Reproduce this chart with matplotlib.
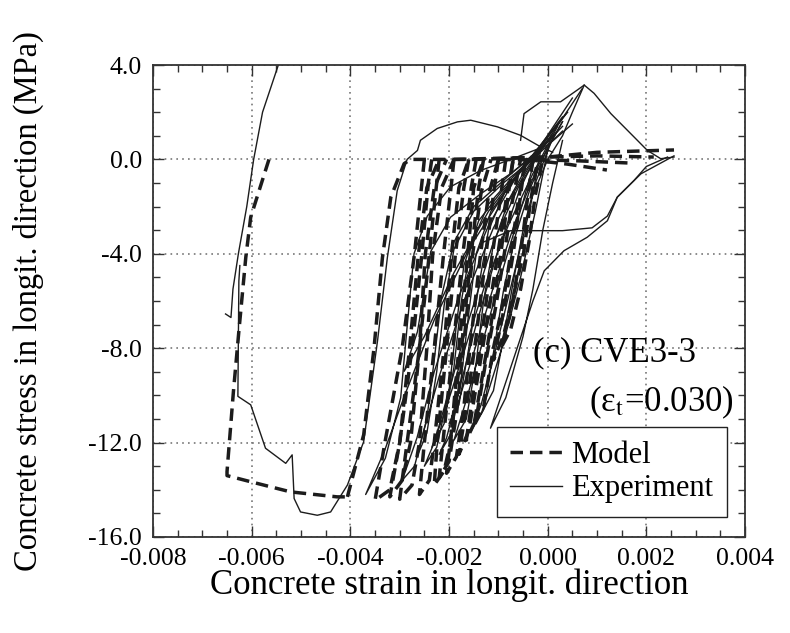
import numpy as np
import matplotlib.pyplot as plt

plt.rcParams['font.family'] = ['Liberation Serif', 'DejaVu Serif']
plt.rcParams['mathtext.fontset'] = 'stix'
plt.rcParams['axes.unicode_minus'] = False

# strain values are in units of 0.001, stress in MPa

# Experiment (thin solid)
exp_left_x = [-5.46, -5.62, -5.78, -5.96, -6.10, -6.27, -6.38, -6.42, -6.53]
exp_left_y = [4.0, 3.0, 2.0, 0.0, -2.0, -4.0, -5.5, -6.7, -6.55]

exp_env_x = [-6.24, -6.26, -6.28, -6.02, -5.72, -5.31, -5.18, -5.14, -5.01, -4.67, -4.40,
             -4.06, -3.73, -3.45, -3.25, -3.05, -2.85, -2.64, -2.58, -2.24, -1.83, -1.56,
             -1.02, -0.55, -0.20, 0.10]
exp_env_y = [-4.5, -5.15, -10.04, -10.4, -12.24, -12.88, -12.52, -14.37, -14.94, -15.08, -14.94,
             -13.8, -11.96, -7.7, -4.16, -1.32, 0.0, 0.38, 0.81, 1.31, 1.59, 1.66,
             1.38, 1.02, 0.6, 0.3]

exp_c1_x = [0.3, -0.3, -0.9, -1.6, -2.3, -2.9, -3.3, -3.69, -3.29, -2.98, -2.85, -2.71, -2.44,
            -1.97, -1.36, -0.75, 0.0, 0.5]
exp_c1_y = [1.8, 0.2, -1.5, -3.8, -6.8, -10.0, -12.3, -14.2, -12.66, -10.1, -7.1, -4.0, -2.4,
            -1.16, -0.47, 0.0, 0.6, 1.5]

exp_c2_x = [0.1, -0.5, -1.2, -1.9, -2.5, -2.91, -2.64, -2.37, -1.97, -1.36, -0.75, -0.2, 0.3]
exp_c2_y = [1.0, -0.3, -2.2, -4.8, -7.5, -8.98, -7.3, -3.9, -2.45, -1.46, -0.6, 0.3, 1.4]

exp_c3_x = [0.0, -0.6, -1.2, -1.8, -2.3, -2.65, -2.95, -2.7, -2.45, -2.3, -2.15, -1.9, -1.5,
            -0.9, -0.3, 0.4]
exp_c3_y = [0.9, -0.6, -2.8, -5.8, -9.0, -11.8, -13.6, -13.0, -11.0, -8.5, -5.8, -3.5, -2.0,
            -0.9, 0.2, 2.0]

exp_c4_x = [-0.1, -0.6, -1.1, -1.6, -2.0, -2.3, -2.5, -2.25, -2.0, -1.85, -1.7, -1.4, -0.95,
            -0.4, 0.2]
exp_c4_y = [0.5, -1.2, -3.5, -6.8, -9.8, -12.0, -13.0, -12.2, -9.8, -7.0, -4.5, -2.6, -1.4,
            -0.2, 1.2]

exp_c5_x = [-0.2, -0.55, -1.0, -1.45, -1.8, -2.05, -2.2, -1.95, -1.75, -1.6, -1.45, -1.15,
            -0.7, -0.2, 0.5]
exp_c5_y = [0.3, -1.2, -3.8, -7.0, -9.8, -11.8, -12.5, -11.6, -9.2, -6.5, -4.0, -2.2,
            -0.9, 0.4, 2.6]

exp_c6_x = [-0.25, -0.5, -0.9, -1.3, -1.65, -1.9, -1.65, -1.45, -1.3, -1.1, -0.8, -0.4, 0.0, 0.7]
exp_c6_y = [0.1, -1.8, -4.6, -7.6, -10.2, -11.9, -11.0, -8.6, -6.0, -3.6, -1.8, -0.4, 0.8, 3.0]

exp_c7_x = [-0.15, -0.35, -0.7, -1.05, -1.35, -1.55, -1.3, -1.1, -0.9, -0.65, -0.35, 0.0, 0.3]
exp_c7_y = [0.3, -2.0, -5.0, -8.0, -10.4, -11.5, -10.6, -8.2, -5.6, -3.2, -1.2, 0.5, 1.6]

exp_c8_x = [2.56, 1.89, 1.41, 1.21, 0.8, 0.33, -0.07, -0.3, -0.7, -1.16, -0.85, -0.5, -0.3,
            -0.1, 0.1, 0.3]
exp_c8_y = [0.15, -0.61, -1.6, -2.6, -3.3, -3.87, -4.72, -6.0, -8.5, -11.39, -10.1, -7.5, -5.5,
            -3.0, -1.0, 0.8]

exp_c9_x = [0.2, -0.3, -0.8, -1.3, -1.75, -2.1, -2.35, -2.1, -1.9, -1.75, -1.55, -1.2, -0.6, 0.1]
exp_c9_y = [1.4, -0.6, -2.8, -5.5, -8.5, -10.8, -12.2, -11.2, -8.8, -6.0, -3.6, -1.9, -0.5, 1.0]

exp_c10_x = [0.3, -0.2, -0.65, -1.1, -1.5, -1.8, -2.0, -1.8, -1.6, -1.4, -1.2, -0.85, -0.35, 0.4]
exp_c10_y = [1.6, -0.3, -2.6, -5.4, -8.2, -10.2, -11.2, -10.4, -8.0, -5.4, -3.0, -1.3, 0.0, 2.0]

exp_c11_x = [0.1, -0.5, -1.1, -1.7, -2.2, -2.5, -2.65, -2.45, -2.25, -2.1, -1.9, -1.5, -0.9,
             -0.3, 0.3]
exp_c11_y = [1.1, -0.6, -2.9, -6.0, -9.2, -11.4, -12.6, -11.6, -9.0, -6.2, -3.8, -2.2, -1.0,
             0.0, 1.2]

exp_c12_x = [0.0, -0.25, -0.55, -0.9, -1.2, -1.35, -1.1, -0.9, -0.7, -0.5, -0.25, 0.1]
exp_c12_y = [0.4, -2.2, -5.0, -7.8, -9.8, -10.8, -9.8, -7.6, -5.2, -3.0, -1.0, 0.9]

exp_top_x = [-0.55, -0.48, -0.14, 0.26, 0.6, 0.74, 0.94, 1.28, 1.75, 2.02, 2.29, 2.56]
exp_top_y = [0.81, 1.94, 2.44, 2.44, 2.94, 3.15, 2.8, 1.94, 0.95, 0.38, 0.03, 0.1]

exp_ret_x = [2.43, 2.0, 1.75, 1.41, 1.21, 0.9, 0.3, -0.75, -1.3]
exp_ret_y = [0.1, -0.3, -0.89, -1.6, -2.4, -2.9, -3.02, -3.02, -3.5]

exp_peak_x = [0.74, 0.5, 0.3, 0.0, -0.3]
exp_peak_y = [3.15, 2.0, 1.0, 0.0, -1.5]

# Model (thick dashed)
mod_left_x = [-5.65, -6.02, -6.12, -6.26, -6.37, -6.50, -6.50, -6.02, -5.21, -4.27, -4.06]
mod_left_y = [0.0, -2.45, -4.16, -7.28, -9.83, -13.23, -13.4, -13.66, -14.09, -14.30, -14.3]

mod_big_x = [-4.06, -3.73, -3.52, -3.35, -3.18, -2.91, -2.78, -1.5, 0.0, 1.0, 2.56]
mod_big_y = [-14.3, -11.67, -7.99, -4.16, -1.6, -0.18, 0.0, 0.0, 0.1, 0.3, 0.4]

mod_l1_x = [-2.5, -2.55, -2.7, -2.95, -3.3, -3.5, -3.2, -3.0, -2.8, -2.62, -2.45, -2.2]
mod_l1_y = [0.0, -1.0, -4.0, -8.0, -12.0, -14.45, -14.0, -12.0, -8.0, -4.0, -1.2, 0.0]

mod_l2_x = [-2.2, -2.25, -2.4, -2.6, -2.85, -3.0, -2.75, -2.6, -2.45, -2.33, -2.15, -1.9]
mod_l2_y = [0.0, -1.0, -4.0, -8.0, -12.0, -14.4, -13.8, -12.0, -8.0, -4.0, -1.2, 0.0]

mod_l3_x = [-1.9, -1.95, -2.11, -2.3, -2.5, -2.6, -2.4, -2.3, -2.1, -1.95, -1.8, -1.6]
mod_l3_y = [0.0, -1.0, -4.0, -8.0, -12.0, -14.2, -13.6, -12.0, -8.0, -4.0, -1.2, 0.0]

mod_l4_x = [-1.6, -1.7, -1.87, -2.05, -2.24, -2.3, -2.1, -1.97, -1.8, -1.62, -1.5, -1.3]
mod_l4_y = [0.0, -1.2, -4.0, -8.0, -12.0, -13.8, -13.2, -12.0, -8.0, -4.0, -1.2, 0.0]

mod_l5_x = [-1.3, -1.4, -1.55, -1.75, -1.95, -2.05, -1.85, -1.7, -1.55, -1.36, -1.2, -1.0]
mod_l5_y = [0.0, -1.2, -4.0, -8.0, -11.5, -13.3, -12.6, -10.5, -7.5, -4.0, -1.5, 0.0]

mod_l6_x = [-1.0, -1.1, -1.25, -1.45, -1.65, -1.8, -1.6, -1.4, -1.2, -1.01, -0.85, -0.7]
mod_l6_y = [0.0, -1.5, -4.0, -7.5, -10.5, -12.5, -11.5, -9.0, -6.5, -4.0, -1.8, 0.0]

mod_l7_x = [-0.7, -0.8, -0.95, -1.15, -1.35, -1.5, -1.3, -1.1, -0.9, -0.75, -0.6, -0.45]
mod_l7_y = [0.0, -1.5, -4.0, -7.0, -9.5, -11.3, -10.5, -8.0, -6.0, -4.0, -1.8, 0.0]

mod_l8_x = [-0.45, -0.55, -0.7, -0.9, -1.1, -0.9, -0.7, -0.49, -0.35, -0.2]
mod_l8_y = [0.0, -1.5, -4.0, -6.5, -8.5, -7.5, -5.8, -4.0, -1.8, 0.0]

mod_l9_x = [-1.45, -1.55, -1.72, -1.92, -2.1, -2.2, -2.0, -1.85, -1.7, -1.52, -1.35, -1.15]
mod_l9_y = [0.0, -1.2, -4.0, -8.0, -11.5, -13.5, -12.8, -10.8, -7.8, -4.0, -1.4, 0.0]

mod_l10_x = [-0.85, -0.95, -1.12, -1.32, -1.52, -1.65, -1.45, -1.25, -1.05, -0.88, -0.72, -0.55]
mod_l10_y = [0.0, -1.5, -4.0, -7.2, -10.0, -11.9, -11.0, -8.5, -6.2, -4.0, -1.8, 0.0]

mod_l11_x = [-0.3, -0.4, -0.55, -0.75, -0.95, -0.75, -0.55, -0.38, -0.25, -0.1]
mod_l11_y = [0.0, -1.5, -4.0, -6.5, -8.0, -7.2, -5.5, -3.5, -1.5, 0.0]

mod_l12_x = [-2.35, -2.42, -2.55, -2.75, -3.0, -3.2, -2.95, -2.78, -2.6, -2.48, -2.3, -2.05]
mod_l12_y = [0.0, -1.0, -4.0, -8.0, -12.0, -14.3, -13.6, -12.0, -8.0, -4.0, -1.2, 0.0]

mod_t1_x = [-1.9, 0.0, 1.0, 2.15]
mod_t1_y = [0.0, 0.1, 0.15, 0.1]
mod_t2_x = [-1.0, 0.5, 1.62]
mod_t2_y = [0.0, -0.05, -0.15]
mod_t3_x = [-0.45, 0.4, 1.2]
mod_t3_y = [0.0, -0.2, -0.45]

exp_lines = [(exp_left_x, exp_left_y), (exp_env_x, exp_env_y), (exp_c1_x, exp_c1_y),
             (exp_c2_x, exp_c2_y), (exp_c3_x, exp_c3_y), (exp_c4_x, exp_c4_y),
             (exp_c5_x, exp_c5_y), (exp_c6_x, exp_c6_y), (exp_c7_x, exp_c7_y),
             (exp_c8_x, exp_c8_y), (exp_c9_x, exp_c9_y), (exp_c10_x, exp_c10_y),
             (exp_c11_x, exp_c11_y), (exp_c12_x, exp_c12_y),
             (exp_top_x, exp_top_y), (exp_ret_x, exp_ret_y), (exp_peak_x, exp_peak_y)]
mod_lines = [(mod_left_x, mod_left_y), (mod_big_x, mod_big_y), (mod_l1_x, mod_l1_y),
             (mod_l2_x, mod_l2_y), (mod_l3_x, mod_l3_y), (mod_l4_x, mod_l4_y),
             (mod_l5_x, mod_l5_y), (mod_l6_x, mod_l6_y), (mod_l7_x, mod_l7_y),
             (mod_l8_x, mod_l8_y), (mod_l9_x, mod_l9_y), (mod_l10_x, mod_l10_y),
             (mod_l11_x, mod_l11_y), (mod_l12_x, mod_l12_y),
             (mod_t1_x, mod_t1_y), (mod_t2_x, mod_t2_y), (mod_t3_x, mod_t3_y)]

ink = '#1c1c1c'

fig = plt.figure(figsize=(7.9, 6.33), dpi=100)
ax = fig.add_axes([0.1937, 0.1517, 0.7494, 0.7456])

for i, (x, y) in enumerate(mod_lines):
    ax.plot(np.array(x) / 1000, y, color=ink, lw=2.5, dashes=(3.6, 2.0),
            label='Model' if i == 0 else None)
for i, (x, y) in enumerate(exp_lines):
    ax.plot(np.array(x) / 1000, y, color=ink, lw=1.0,
            label='Experiment' if i == 0 else None)

ax.set_xlim(-0.008, 0.004)
ax.set_ylim(-16, 4)
ax.set_xticks(np.arange(-0.008, 0.0041, 0.002))
ax.set_yticks(np.arange(-16, 4.1, 4))
ax.set_xticks(np.arange(-0.008, 0.0041, 0.0005), minor=True)
ax.set_yticks(np.arange(-16, 4.1, 1), minor=True)
ax.set_xticklabels(['%.3f' % v for v in np.arange(-0.008, 0.0041, 0.002)])
ax.set_yticklabels(['%.1f' % v for v in np.arange(-16, 4.1, 4)])
ax.tick_params(which='both', direction='in', top=True, right=True, labelsize=18.5,
               color='#333333')
ax.tick_params(which='major', length=8, width=1.0, pad=8)
ax.tick_params(which='minor', length=5, width=1.0)
for s in ax.spines.values():
    s.set_linewidth(1.3)
    s.set_color('#333333')
ax.grid(True, which='major', color='#777777', lw=1.2, linestyle=(0, (1, 2.5)))

ax.set_xlabel('Concrete strain in longit. direction', fontsize=25, labelpad=-1)
ax.set_ylabel('Concrete stress in longit. direction (MPa)', fontsize=23.5, labelpad=32)

ax.text(-0.0003, -8.2, '(c) CVE3-3', fontsize=25, ha='left', va='center')
ax.text(0.00378, -10.3, '(ε$_{\\rm t}$=0.030)', fontsize=25, ha='right', va='center')

leg = ax.legend(loc='lower right', bbox_to_anchor=(0.970, 0.042), borderaxespad=0,
                fontsize=22, handlelength=1.7, handletextpad=0.3, fancybox=False,
                framealpha=1, edgecolor='#222222', borderpad=0.45, labelspacing=0.15)
leg.get_frame().set_linewidth(1.0)

fig.savefig('out.png', dpi=100)
